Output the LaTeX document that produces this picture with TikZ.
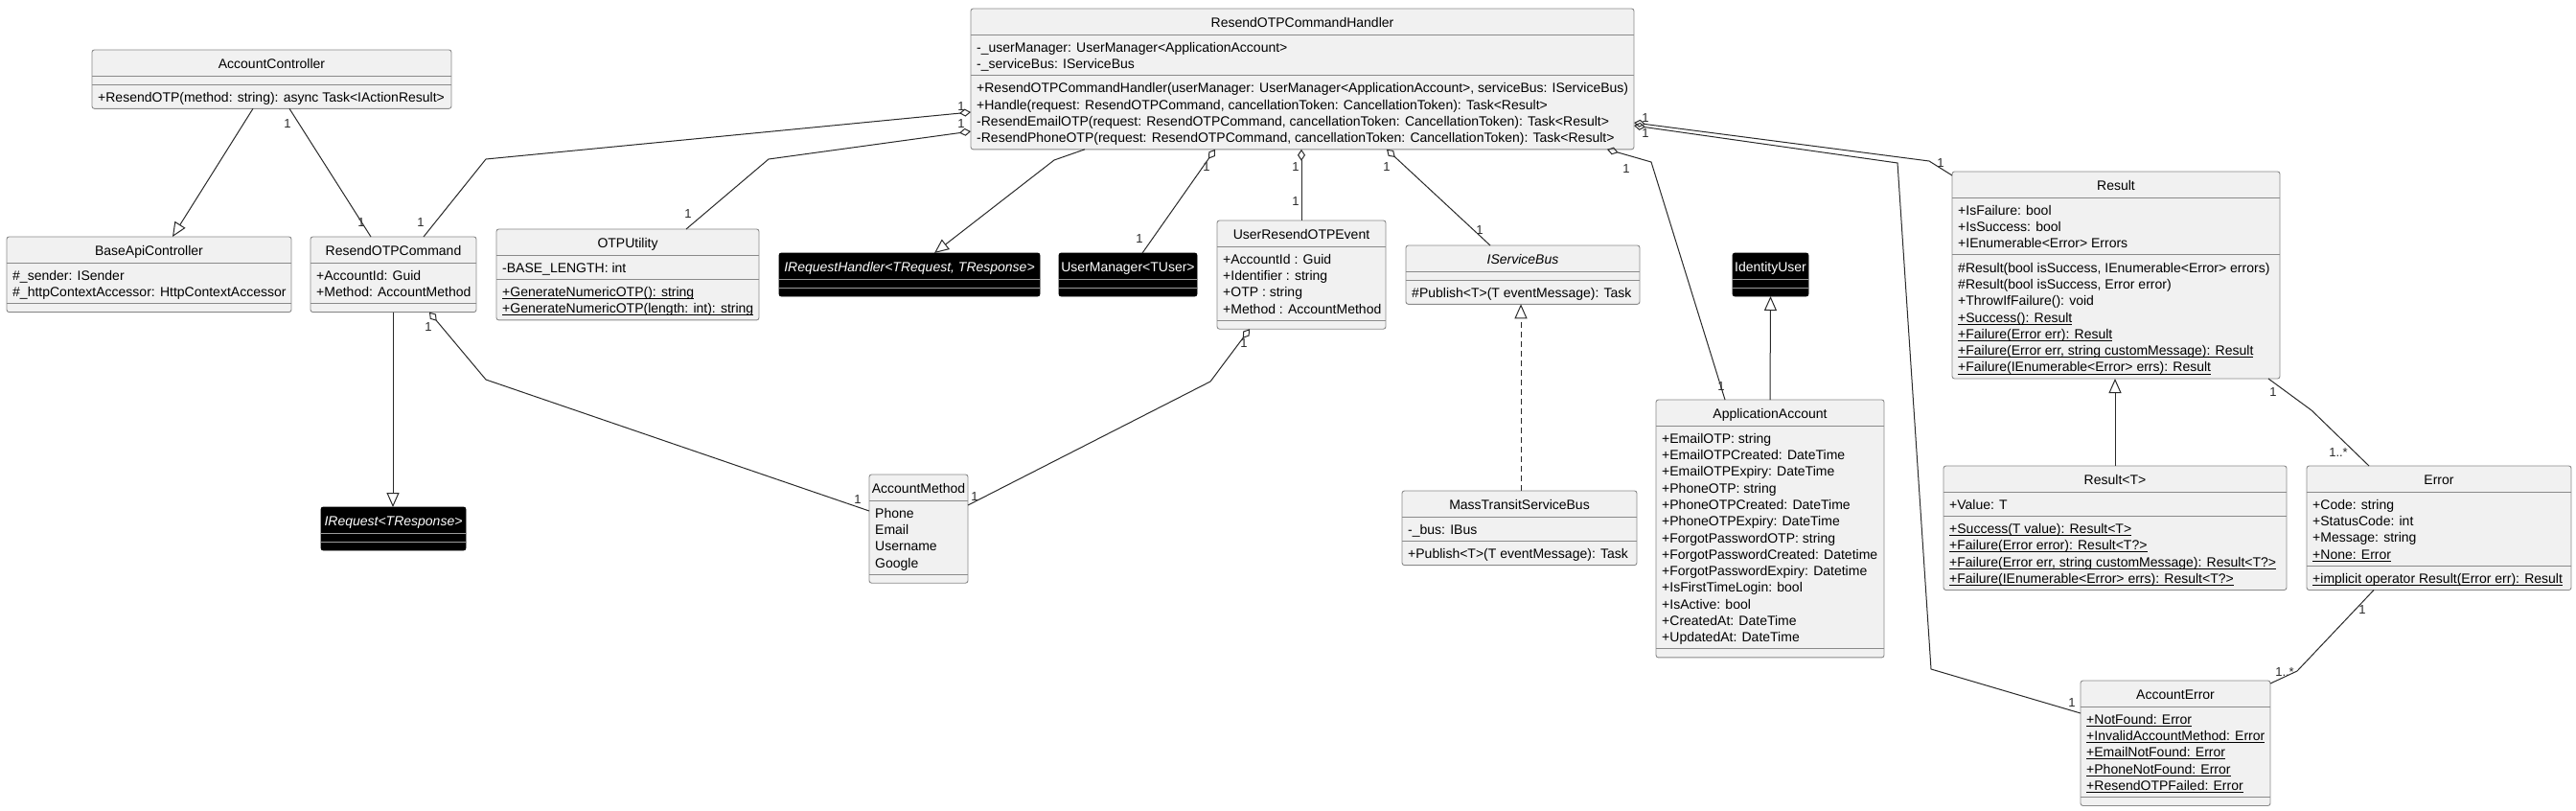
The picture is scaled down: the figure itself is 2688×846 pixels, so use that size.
\documentclass[tikz,border=0pt]{standalone}
\usepackage{fontspec}
\setmainfont{Liberation Sans}
\usetikzlibrary{arrows.meta,calc}
\definecolor{clsfill}{HTML}{F1F1F1}
\definecolor{clsline}{HTML}{8A8A8A}
\definecolor{conncol}{HTML}{2A2A2A}
\definecolor{blksepcol}{HTML}{9A9A9A}
\newcommand\rw{\strut}
\newcommand\ulx[1]{\setbox0\hbox{#1}\rlap{\rule[-2.4bp]{\wd0}{0.8bp}}\box0}
\newcommand\UCbox[7]{%
  \pgfmathsetmacro\ucA{ifthenelse(#6>0,#6*17.3+8,9)}%
  \pgfmathsetmacro\ucM{ifthenelse(#7>0,#7*17.3+8,9)}%
  \pgfmathsetmacro\ucH{27+\ucA+\ucM}%
  \pgfmathsetmacro\ucW{#5-#3}%
  \pgfmathsetmacro\ucSa{#4+27}%
  \pgfmathsetmacro\ucSb{#4+27+\ucA}%
  \pgfmathsetmacro\ucX{#3}%
  \pgfmathsetmacro\ucXc{(#3+#5)/2}%
  \pgfmathsetmacro\ucY{#4}%
  \def\ucN{#2}%
  \node[#1, minimum width=\ucW bp, minimum height=\ucH bp, anchor=north west] (#2) at (#3,#4) {};
  \draw[#1 sep] (#3,\ucSa) -- (#5,\ucSa);
  \draw[#1 sep] (#3,\ucSb) -- (#5,\ucSb);
}
\newcommand\UCtext[4]{%
  \node[ttl,#1] (\ucN-t) at (\ucXc,\ucY+19) {#2};
  \node[rowtxt] (\ucN-a) at (\ucX+6,\ucSa+5.9) {#3};
  \node[rowtxt] (\ucN-m) at (\ucX+6,\ucSb+5.9) {#4};
}
\begin{document}
\begin{tikzpicture}[x=1bp,y=-1bp,
  cls/.style={draw=clsline, fill=clsfill, line width=0.9bp, rounded corners=2.5bp, inner sep=0pt, outer sep=0pt},
  cls sep/.style={draw=clsline, line width=0.9bp},
  blk/.style={draw=black, fill=black, line width=0.9bp, rounded corners=2.5bp, inner sep=0pt, outer sep=0pt},
  blk sep/.style={draw=blksepcol, line width=0.9bp},
  ttl/.style={font=\fontsize{14bp}{17.3bp}\selectfont, inner sep=0pt, anchor=base},
  rowtxt/.style={font=\fontsize{14bp}{17.3bp}\selectfont, align=left, anchor=north west, inner sep=0pt},
  connline/.style={draw=conncol, line width=1bp},
  aggr/.style={{Diamond[open,length=12bp,width=8bp]}-},
  genz/.style={-{Triangle[open,length=15bp,width=13bp]}},
  multlab/.style={font=\fontsize{13bp}{15bp}\selectfont, inner sep=0pt, text=conncol}
]
\fill[white] (0,0) rectangle (2688,846);
\useasboundingbox (0,0) rectangle (2688,846);

% ---------------- classes ----------------
\UCbox{cls}{ac}{96}{52}{471}{0}{1}
\UCtext{}{AccountController}{}{\rw +ResendOTP(method: string): async Task<IActionResult>}

\UCbox{cls}{base}{7}{247}{304}{2}{0}
\UCtext{}{BaseApiController}{\rw \#\_sender: ISender\\\rw \#\_httpContextAccessor: HttpContextAccessor}{}

\UCbox{cls}{cmd}{324}{247}{497}{2}{0}
\UCtext{}{ResendOTPCommand}{\rw +AccountId: Guid\\\rw +Method: AccountMethod}{}

\UCbox{cls}{hdl}{1013}{9}{1705}{2}{4}
\UCtext{}{ResendOTPCommandHandler}{\rw -\_userManager: UserManager<ApplicationAccount>\\\rw -\_serviceBus: IServiceBus}{\rw +ResendOTPCommandHandler(userManager: UserManager<ApplicationAccount>, serviceBus: IServiceBus)\\\rw +Handle(request: ResendOTPCommand, cancellationToken: CancellationToken): Task<Result>\\\rw -ResendEmailOTP(request: ResendOTPCommand, cancellationToken: CancellationToken): Task<Result>\\\rw -ResendPhoneOTP(request: ResendOTPCommand, cancellationToken: CancellationToken): Task<Result>}

\UCbox{cls}{otp}{518}{239}{792}{1}{2}
\UCtext{}{OTPUtility}{\rw -BASE\_LENGTH: int}{\rw\ulx{+GenerateNumericOTP(): string}\\\rw\ulx{+GenerateNumericOTP(length: int): string}}

\UCbox{blk}{irh}{813}{264}{1085}{0}{0}
\UCtext{text=white}{\itshape IRequestHandler<TRequest, TResponse>}{}{}

\UCbox{blk}{um}{1105}{264}{1249}{0}{0}
\UCtext{text=white}{UserManager<TUser>}{}{}

\UCbox{cls}{evt}{1270}{230}{1446}{4}{0}
\UCtext{}{UserResendOTPEvent}{\rw +AccountId : Guid\\\rw +Identifier : string\\\rw +OTP : string\\\rw +Method : AccountMethod}{}

\UCbox{cls}{isb}{1467}{256}{1711}{0}{1}
\UCtext{}{\itshape IServiceBus}{}{\rw \#Publish<T>(T eventMessage): Task}

\UCbox{blk}{idu}{1808}{264}{1887}{0}{0}
\UCtext{text=white}{IdentityUser}{}{}

\UCbox{cls}{res}{2037}{179}{2379}{3}{7}
\UCtext{}{Result}{\rw +IsFailure: bool\\\rw +IsSuccess: bool\\\rw +IEnumerable<Error> Errors}{\rw \#Result(bool isSuccess, IEnumerable<Error> errors)\\\rw \#Result(bool isSuccess, Error error)\\\rw +ThrowIfFailure(): void\\\rw\ulx{+Success(): Result}\\\rw\ulx{+Failure(Error err): Result}\\\rw\ulx{+Failure(Error err, string customMessage): Result}\\\rw\ulx{+Failure(IEnumerable<Error> errs): Result}}

\UCbox{blk}{ireq}{335}{529}{486}{0}{0}
\UCtext{text=white}{\itshape IRequest<TResponse>}{}{}

\UCbox{cls}{am}{907}{495}{1010}{4}{0}
\UCtext{}{AccountMethod}{\rw Phone\\\rw Email\\\rw Username\\\rw Google}{}

\UCbox{cls}{mt}{1463}{512}{1708}{1}{1}
\UCtext{}{MassTransitServiceBus}{\rw -\_bus: IBus}{\rw +Publish<T>(T eventMessage): Task}

\UCbox{cls}{aa}{1728}{417}{1966}{13}{0}
\UCtext{}{ApplicationAccount}{\rw +EmailOTP: string\\\rw +EmailOTPCreated: DateTime\\\rw +EmailOTPExpiry: DateTime\\\rw +PhoneOTP: string\\\rw +PhoneOTPCreated: DateTime\\\rw +PhoneOTPExpiry: DateTime\\\rw +ForgotPasswordOTP: string\\\rw +ForgotPasswordCreated: Datetime\\\rw +ForgotPasswordExpiry: Datetime\\\rw +IsFirstTimeLogin: bool\\\rw +IsActive: bool\\\rw +CreatedAt: DateTime\\\rw +UpdatedAt: DateTime}{}

\UCbox{cls}{rt}{2028}{486}{2386}{1}{4}
\UCtext{}{Result<T>}{\rw +Value: T}{\rw\ulx{+Success(T value): Result<T>}\\\rw\ulx{+Failure(Error error): Result<T?>}\\\rw\ulx{+Failure(Error err, string customMessage): Result<T?>}\\\rw\ulx{+Failure(IEnumerable<Error> errs): Result<T?>}}

\UCbox{cls}{err}{2407}{486}{2683}{4}{1}
\UCtext{}{Error}{\rw +Code: string\\\rw +StatusCode: int\\\rw +Message: string\\\rw\ulx{+None: Error}}{\rw\ulx{+implicit operator Result(Error err): Result}}

\UCbox{cls}{ae}{2171}{710}{2369}{5}{0}
\UCtext{}{AccountError}{\rw\ulx{+NotFound: Error}\\\rw\ulx{+InvalidAccountMethod: Error}\\\rw\ulx{+EmailNotFound: Error}\\\rw\ulx{+PhoneNotFound: Error}\\\rw\ulx{+ResendOTPFailed: Error}}{}

% ---------------- connectors ----------------
\draw[connline,genz] ($(ac.south west)+(168,0)$) -- ($(base.north west)+(173,0)$);
\draw[connline] ($(ac.south west)+(206,0)$) -- ($(cmd.north west)+(63,0)$);
\draw[connline,aggr] ($(hdl.north west)+(0,108)$) -- (507,166) -- ($(cmd.north west)+(118,0)$);
\draw[connline,aggr] ($(hdl.north west)+(0,128)$) -- (802,166) -- ($(otp.north west)+(198,0)$);
\draw[connline,genz] ($(hdl.south west)+(119,0)$) -- (1100,167) -- ($(irh.north west)+(162,0)$);
\draw[connline,aggr] ($(hdl.south west)+(255,0)$) -- ($(um.north west)+(87,0)$);
\draw[connline,aggr] ($(hdl.south west)+(345,0)$) -- ($(evt.north west)+(88,0)$);
\draw[connline,aggr] ($(hdl.south west)+(434,0)$) -- ($(isb.north west)+(88,0)$);
\draw[connline,aggr] ($(hdl.south west)+(664,0)$) -- (1723,169) -- ($(aa.north west)+(72,0)$);
\draw[connline,aggr] ($(hdl.north east)+(0,119)$) -- (2013,168) -- ($(res.north west)+(0,4)$);
\draw[connline,aggr] ($(hdl.north east)+(0,122)$) -- (1980,170) -- (2015,698) -- ($(ae.north west)+(0,34)$);
\draw[connline,genz] ($(rt.north west)+(179,0)$) -- ($(res.south west)+(170,0)$);
\draw[connline] ($(res.south west)+(330,0)$) -- (2412,428) -- ($(err.north west)+(65,0)$);
\draw[connline] ($(err.south west)+(70,0)$) -- (2397,700) -- ($(ae.north east)+(0,3)$);
\draw[connline,genz] ($(cmd.south west)+(86,0)$) -- ($(ireq.north west)+(75,0)$);
\draw[connline,aggr] ($(cmd.south west)+(124,0)$) -- (507,396) -- ($(am.north west)+(0,38)$);
\draw[connline,aggr] ($(evt.south west)+(34,0)$) -- (1263,398) -- ($(am.north east)+(0,32)$);
\draw[connline,genz,dash pattern=on 6bp off 4bp] ($(mt.north west)+(124,0)$) -- ($(isb.south west)+(120,0)$);
\draw[connline,genz] ($(aa.north west)+(119,0)$) -- ($(idu.south west)+(39.5,0)$);

% ---------------- multiplicities ----------------
\node[multlab] (m1) at (300,129) {1};
\node[multlab] (m2) at (377,232) {1};
\node[multlab] (m3) at (439,232) {1};
\node[multlab] (m4) at (1003,111) {1};
\node[multlab] (m5) at (1003,129) {1};
\node[multlab] (m6) at (718,223) {1};
\node[multlab] (m7) at (1259,174) {1};
\node[multlab] (m8) at (1189,249) {1};
\node[multlab] (m9) at (1352,174) {1};
\node[multlab] (m10) at (1352,210) {1};
\node[multlab] (m11) at (1447,174) {1};
\node[multlab] (m12) at (1544,240) {1};
\node[multlab] (m13) at (1697,176) {1};
\node[multlab] (m14) at (1796,403) {1};
\node[multlab] (m15) at (1717,123) {1};
\node[multlab] (m16) at (1717,139) {1};
\node[multlab] (m17) at (2025,170) {1};
\node[multlab] (m18) at (2162,733) {1};
\node[multlab] (m19) at (2372,409) {1};
\node[multlab] (m20) at (2440,472) {1..*};
\node[multlab] (m21) at (2465,636) {1};
\node[multlab] (m22) at (2384,701) {1..*};
\node[multlab] (m23) at (447,341) {1};
\node[multlab] (m24) at (895,521) {1};
\node[multlab] (m25) at (1298,358) {1};
\node[multlab] (m26) at (1017,518) {1};
\end{tikzpicture}
\end{document}
